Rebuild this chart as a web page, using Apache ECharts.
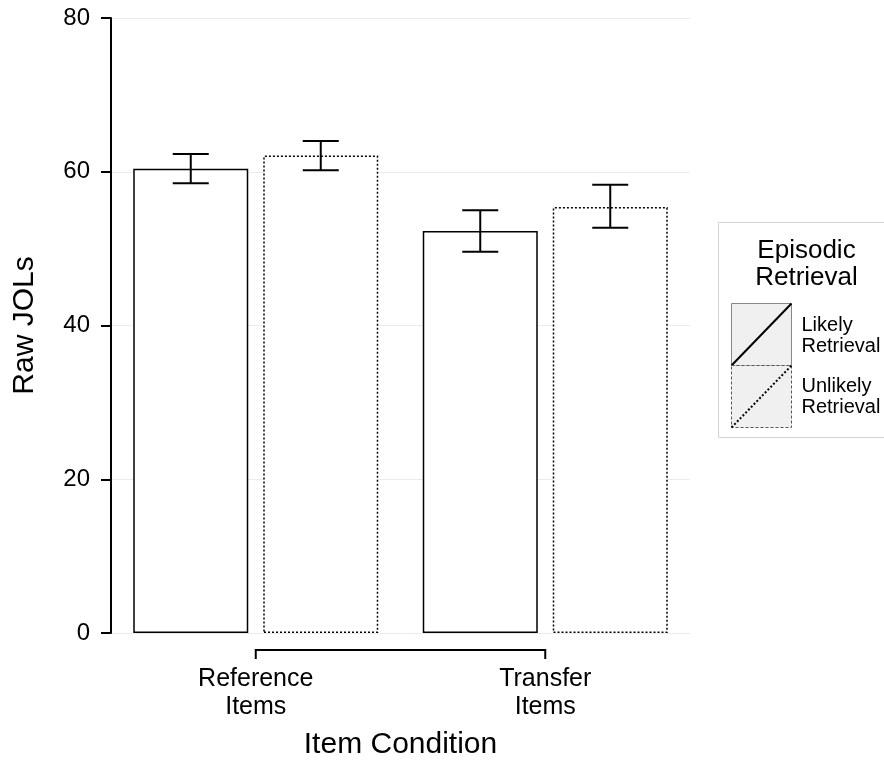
<!DOCTYPE html>
<html>
<head>
<meta charset="utf-8">
<script src="https://cdn.jsdelivr.net/npm/echarts@6/dist/echarts.min.js"></script>
<style>
  html, body { margin: 0; padding: 0; background: #fff; }
  #chart { width: 884px; height: 763px; }
</style>
</head>
<body>
<div id="chart"></div>
<script>
// Mean raw JOLs by item condition and episodic-retrieval group
const categories = ['Reference\nItems', 'Transfer\nItems'];
const likelyMeans = [60.4, 52.3];
const likelyLower = [58.5, 49.6];
const likelyUpper = [62.3, 55.0];
const unlikelyMeans = [62.1, 55.4];
const unlikelyLower = [60.2, 52.7];
const unlikelyUpper = [64.0, 58.3];
const yTicks = [0, 20, 40, 60, 80];

const FONT = '"Liberation Sans", Arial, sans-serif';
const BAR_W = 115;
const BAR_GAP = 15;
const HALF_STEP = (BAR_W + BAR_GAP) / 2;

const chart = echarts.init(document.getElementById('chart'), null, { renderer: 'canvas' });

// error bars drawn at the bar centres of one group
function errorSeries(lower, upper, side) {
  return {
    type: 'custom',
    silent: true,
    z: 5,
    data: lower.map((lo, i) => [i, lo, upper[i]]),
    renderItem: function (params, api) {
      const lo = api.coord([api.value(0), api.value(1)]);
      const hi = api.coord([api.value(0), api.value(2)]);
      const x = lo[0] + side * HALF_STEP;
      const cap = 18;
      const style = { stroke: '#000', lineWidth: 2 };
      return {
        type: 'group',
        children: [
          { type: 'line', shape: { x1: x, y1: lo[1], x2: x, y2: hi[1] }, style },
          { type: 'line', shape: { x1: x - cap, y1: lo[1], x2: x + cap, y2: lo[1] }, style },
          { type: 'line', shape: { x1: x - cap, y1: hi[1], x2: x + cap, y2: hi[1] }, style }
        ]
      };
    }
  };
}

chart.setOption({
  backgroundColor: '#fff',
  animation: false,
  grid: { left: 111, right: 194, top: 18, bottom: 130, containLabel: false, outerBoundsMode: 'none' },
  xAxis: {
    type: 'category',
    data: categories,
    axisLine: { show: false },
    axisTick: { show: false },
    axisLabel: {
      fontFamily: FONT, fontSize: 25, color: '#000', margin: 32, lineHeight: 28
    },
    name: 'Item Condition',
    nameLocation: 'middle',
    nameGap: 97,
    nameTextStyle: { fontFamily: FONT, fontSize: 30, color: '#000' }
  },
  yAxis: {
    type: 'value',
    min: yTicks[0],
    max: yTicks[yTicks.length - 1],
    interval: 20,
    axisLine: { show: true, lineStyle: { color: '#000', width: 2 } },
    axisTick: { show: true, length: 10, lineStyle: { color: '#000', width: 2 } },
    axisLabel: { fontFamily: FONT, fontSize: 24, color: '#000', margin: 21 },
    splitLine: { show: true, lineStyle: { color: '#ebebeb', width: 1 } },
    name: 'Raw JOLs',
    nameLocation: 'middle',
    nameGap: 71,
    nameTextStyle: { fontFamily: FONT, fontSize: 30, color: '#000' }
  },
  series: [
    {
      name: 'Likely Retrieval',
      type: 'bar',
      data: likelyMeans,
      barWidth: BAR_W,
      barGap: (BAR_GAP / BAR_W * 100).toFixed(2) + '%',
      itemStyle: { color: '#fff', borderColor: '#000', borderWidth: 1.5 }
    },
    {
      name: 'Unlikely Retrieval',
      type: 'bar',
      data: unlikelyMeans,
      barWidth: BAR_W,
      itemStyle: { color: '#fff', borderColor: '#000', borderWidth: 1.5, borderType: [2, 2] }
    },
    errorSeries(likelyLower, likelyUpper, -1),
    errorSeries(unlikelyLower, unlikelyUpper, 1),
    // capped x axis line running between the two category centres
    {
      type: 'custom',
      silent: true,
      clip: false,
      data: [[0, 0]],
      renderItem: function (params, api) {
        const a = api.coord([0, 0]);
        const b = api.coord([1, 0]);
        const y = a[1] + 17;
        return {
          type: 'polyline',
          shape: { points: [[a[0], y + 9], [a[0], y], [b[0], y], [b[0], y + 9]] },
          style: { stroke: '#000', lineWidth: 2, fill: null }
        };
      }
    }
  ],
  graphic: [
    {
      type: 'group',
      left: 718,
      top: 222,
      children: [
        { type: 'rect', shape: { x: 0, y: 0, width: 175, height: 215 },
          style: { fill: '#fff', stroke: '#d4d4d4', lineWidth: 1 } },
        { type: 'text', x: 88, y: 15,
          style: { text: 'Episodic\nRetrieval', fontFamily: FONT, fontSize: 26, lineHeight: 27,
                   fill: '#000', align: 'center', verticalAlign: 'top' } },
        { type: 'rect', shape: { x: 13, y: 81, width: 60, height: 62 },
          style: { fill: '#f0f0f0', stroke: '#888', lineWidth: 1 } },
        { type: 'line', shape: { x1: 13, y1: 143, x2: 73, y2: 81 },
          style: { stroke: '#000', lineWidth: 2 } },
        { type: 'rect', shape: { x: 13, y: 143, width: 60, height: 62 },
          style: { fill: '#f0f0f0', stroke: '#555', lineWidth: 1, lineDash: [3, 2] } },
        { type: 'line', shape: { x1: 13, y1: 205, x2: 73, y2: 143 },
          style: { stroke: '#000', lineWidth: 2, lineDash: [2, 2] } },
        { type: 'text', x: 83, y: 92,
          style: { text: 'Likely\nRetrieval', fontFamily: FONT, fontSize: 20, lineHeight: 21,
                   fill: '#000', align: 'left', verticalAlign: 'top' } },
        { type: 'text', x: 83, y: 153,
          style: { text: 'Unlikely\nRetrieval', fontFamily: FONT, fontSize: 20, lineHeight: 21,
                   fill: '#000', align: 'left', verticalAlign: 'top' } }
      ]
    }
  ]
});
</script>
</body>
</html>
